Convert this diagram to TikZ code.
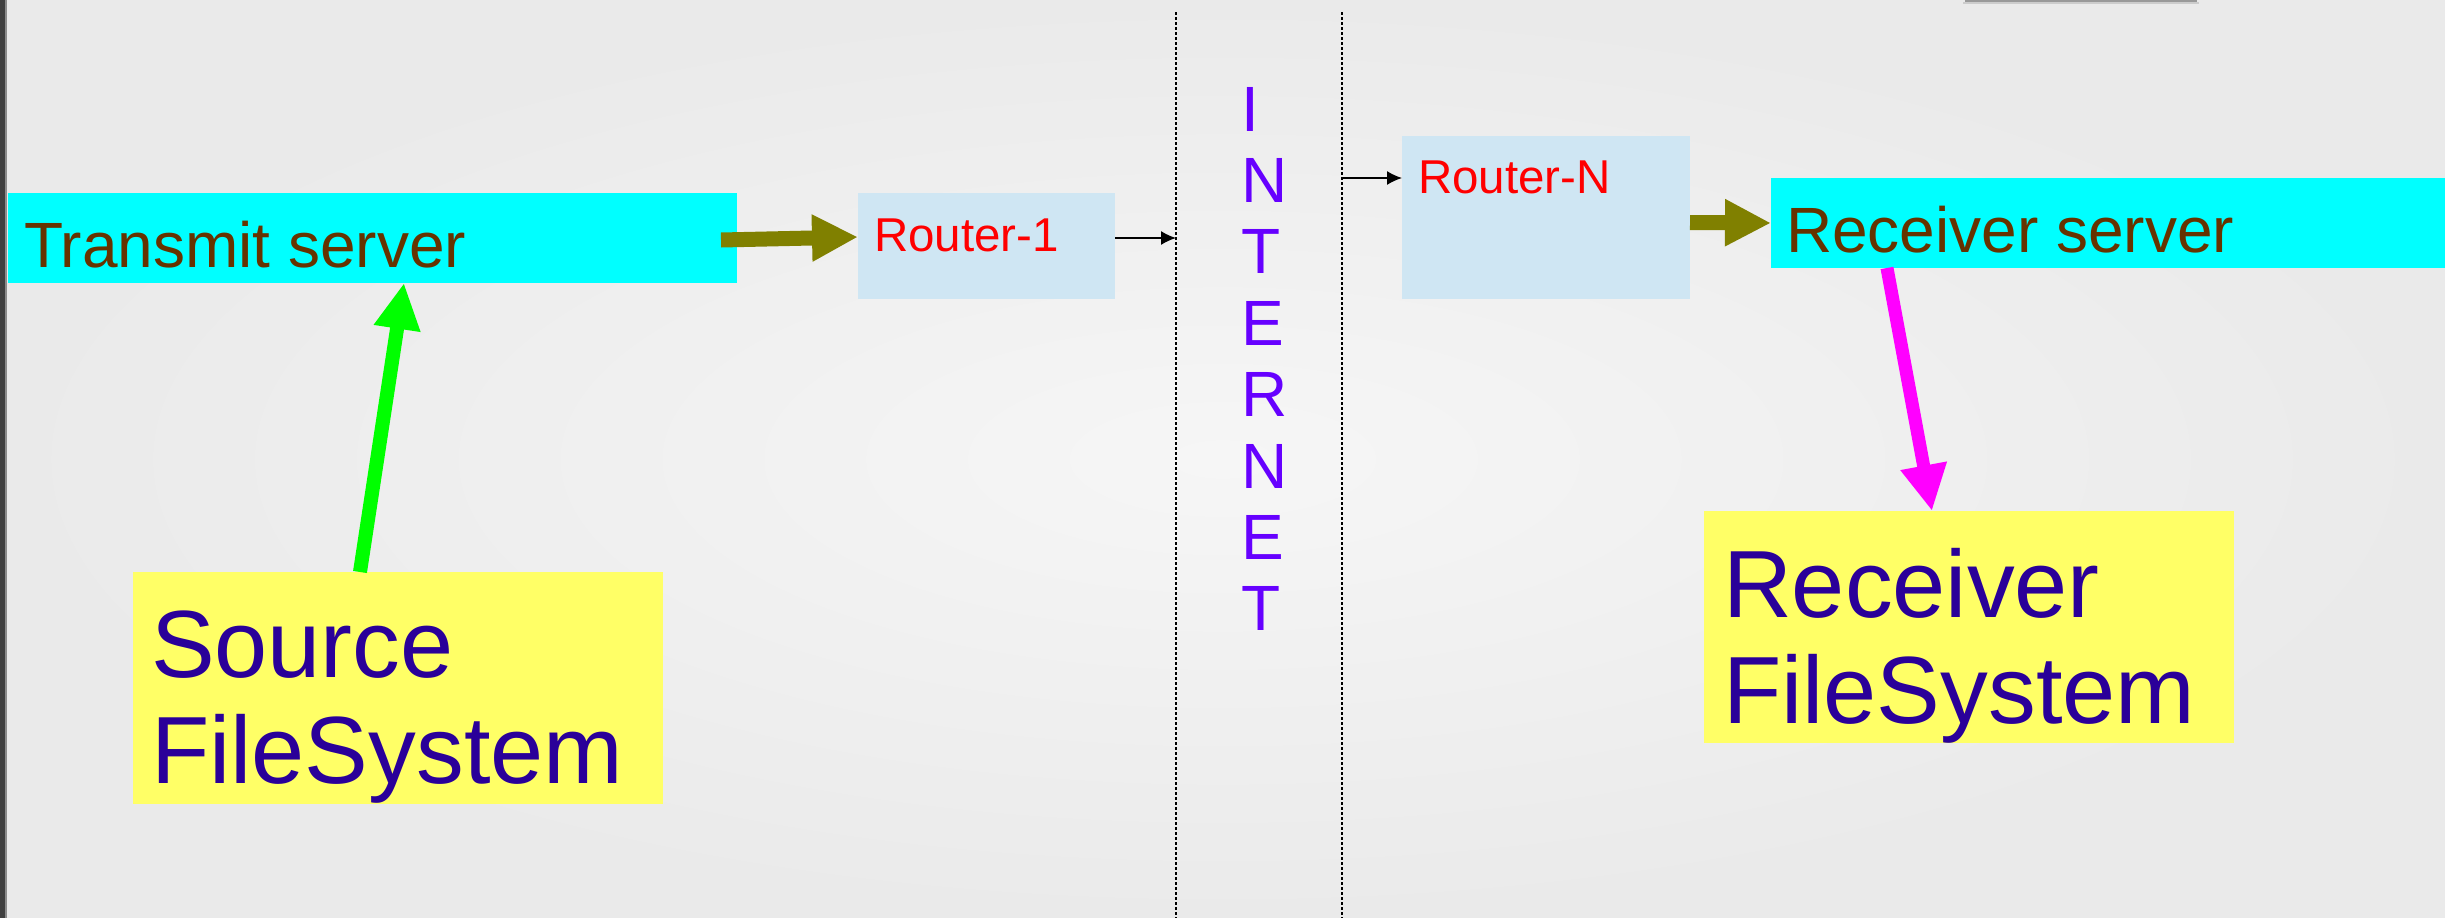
\documentclass[tikz,border=0pt]{standalone}
\usepackage{fontspec}
\setmainfont{Liberation Sans}
\usetikzlibrary{arrows.meta}
\definecolor{cyanc}{RGB}{0,255,255}
\definecolor{routerc}{RGB}{207,230,243}
\definecolor{yellowc}{RGB}{255,255,102}
\definecolor{brownc}{RGB}{102,51,0}
\definecolor{fsblue}{RGB}{42,0,153}
\definecolor{inetc}{RGB}{102,0,255}
\definecolor{olivec}{RGB}{128,128,0}
\definecolor{greenc}{RGB}{0,255,0}
\definecolor{magc}{RGB}{255,0,255}
\definecolor{bgin}{RGB}{246,246,246}
\definecolor{bgout}{RGB}{234,234,234}
\begin{document}
\begin{tikzpicture}[x=1pt,y=-1pt,
  box/.style={draw=none, inner sep=0pt, outer sep=0pt, anchor=north west},
  srvbox/.style={box, fill=cyanc, minimum height=90pt},
  routerbox/.style={box, fill=routerc},
  fsbox/.style={box, fill=yellowc, minimum height=232pt, minimum width=530pt},
  lbl/.style={anchor=base west, inner sep=0pt, outer sep=0pt},
  srvtxt/.style={lbl, text=brownc, font=\fontsize{64}{64}\selectfont},
  routxt/.style={lbl, text=red, font=\fontsize{47.5}{47.5}\selectfont},
  fstxt/.style={lbl, text=fsblue, font=\fontsize{95.5}{95.5}\selectfont},
  inet/.style={lbl, text=inetc, font=\fontsize{64}{64}\selectfont},
  fat/.style={line width=15pt, -{Triangle[length=46pt,width=44pt]}},
  thin/.style={line width=1.5pt, -{Latex[length=15pt,width=14pt]}},
  sep/.style={line width=1.3pt, dash pattern=on 3pt off 2pt}
]
\useasboundingbox (0,0) rectangle (2445,918);
\shade[inner color=bgin, outer color=bgout] (0,0) rectangle (2445,918);
\fill[black!75] (0,0) rectangle (5,918);
\fill[black!45] (5,0) rectangle (6.5,918);
\fill[black!40] (1965,0) rectangle (2197,2);
\fill[black!20] (1963,2) rectangle (2199,4);

% separators
\coordinate (dl1top) at (1176,12);
\coordinate (dl1bot) at (1176,918);
\coordinate (dl2top) at (1342,12);
\coordinate (dl2bot) at (1342,918);
\draw[sep] (dl1top) -- (dl1bot);
\draw[sep] (dl2top) -- (dl2bot);

% boxes
\node[srvbox, minimum width=729pt] (tsrv) at (8,193) {};
\node[routerbox, minimum width=257pt, minimum height=106pt] (r1) at (858,193) {};
\node[routerbox, minimum width=288pt, minimum height=163pt] (rN) at (1402,136) {};
\node[srvbox, minimum width=674pt] (rsrv) at (1771,178) {};
\node[fsbox] (sfs) at (133,572) {};
\node[fsbox] (rfs) at (1704,511) {};

% texts
\node[srvtxt] (tsrvt) at (24,267) {Transmit server};
\node[srvtxt] (rsrvt) at (1786,252) {Receiver server};
\node[routxt] (r1t) at (874,251) {Router-1};
\node[routxt] (rNt) at (1418,193) {Router-N};
\node[fstxt] (sfs1) at (151,677) {Source};
\node[fstxt] (sfs2) at (151,783) {FileSystem};
\node[fstxt] (rfs1) at (1723,617) {Receiver};
\node[fstxt] (rfs2) at (1723,723) {FileSystem};
\foreach \c [count=\i] in {I,N,T,E,R,N,E,T}
  \node[inet] (inet\i) at (1241,{131+71.4*(\i-1)}) {\c};

% connectors
\draw[fat, olivec] ([xshift=-16pt,yshift=-2pt]tsrv.east) -- ([yshift=9pt]r1.west);
\draw[fat, olivec] ([yshift=-5pt]rN.east) -- (rsrv.west);
\coordinate (a1s) at ([yshift=8pt]r1.east);
\draw[thin] (a1s) -- (a1s -| dl1top);
\coordinate (a2e) at ([yshift=39.5pt]rN.west);
\draw[thin] (a2e -| dl2top) -- (a2e);
\draw[line width=14pt, greenc, -{Triangle[length=46pt,width=44pt]}] ([xshift=-38pt]sfs.north) -- ([xshift=31.5pt]tsrv.south);
\draw[line width=13pt, magc, -{Triangle[length=46pt,width=44pt]}] ([xshift=-221pt]rsrv.south) -- ([xshift=-37pt]rfs.north);
\end{tikzpicture}
\end{document}
